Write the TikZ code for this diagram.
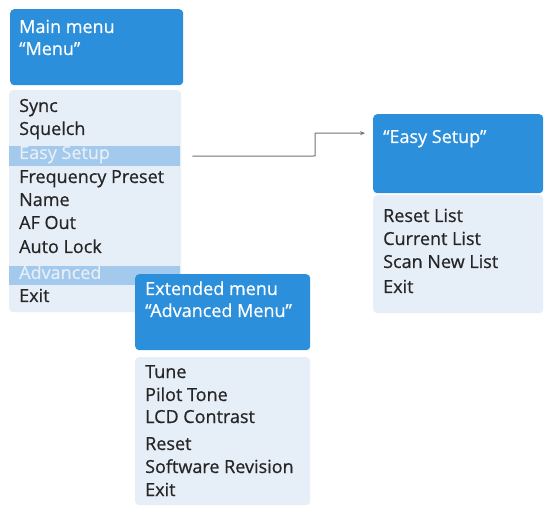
\documentclass[tikz,border=0pt]{standalone}
\usepackage{fontspec}
\setmainfont{Open Sans}
\newfontfamily\menufont{Open Sans}[FakeBold=0.6]
\usetikzlibrary{arrows.meta}
\definecolor{hdrblue}{HTML}{2B8FDB}
\definecolor{bodybg}{HTML}{E6EEF8}
\definecolor{barblue}{HTML}{A3C9EC}
\definecolor{txt}{HTML}{262626}
\definecolor{conncol}{HTML}{6E7378}
\tikzset{
  hdr/.style={fill=hdrblue, rounded corners=4pt, anchor=north west, inner sep=0pt},
  bodyb/.style={fill=bodybg, rounded corners=4pt, anchor=north west, inner sep=0pt},
  hbar/.style={fill=barblue, anchor=north west, inner sep=0pt},
  item/.style={anchor=base west, inner sep=0pt, text=txt, font=\menufont\fontsize{18}{20}\selectfont},
  hitem/.style={item, text=bodybg},
  htext/.style={anchor=base west, inner sep=0pt, text=white, font=\menufont\fontsize{18}{20}\selectfont},
  conn/.style={draw=conncol, line width=1pt, -{Stealth[length=5pt,width=4pt]}},
}
\begin{document}
\begin{tikzpicture}[x=1pt,y=-1pt]
\useasboundingbox[fill=white] (0,0) rectangle (546,510);
% Main menu
\node[hdr, minimum width=173pt, minimum height=76pt] (mainhead) at (10,9) {};
\node[bodyb, minimum width=172pt, minimum height=222pt] (mainbody) at (9,90) {};
\node[hbar, minimum width=171pt, minimum height=20pt] (esbar) at (9,146) {};
\node[hbar, minimum width=171pt, minimum height=19pt] (advbar) at (9,266) {};
\node[htext] (mh1) at (19,33) {Main menu};
\node[htext] (mh2) at (19,55) {“Menu”};
\node[item] (m1) at (19,112) {Sync};
\node[item] (m2) at (19,135) {Squelch};
\node[hitem] (m3) at (19,159) {Easy Setup};
\node[item] (m4) at (19,183) {Frequency Preset};
\node[item] (m5) at (19,206) {Name};
\node[item] (m6) at (19,229) {AF Out};
\node[item] (m7) at (19,253) {Auto Lock};
\node[hitem] (m8) at (19,279) {Advanced};
\node[item] (m9) at (19,302) {Exit};
% Extended menu
\node[hdr, minimum width=175pt, minimum height=76pt] (exthead) at (135,274) {};
\node[bodyb, minimum width=175pt, minimum height=148pt] (extbody) at (135,357) {};
\node[htext] (eh1) at (145,295) {Extended menu};
\node[htext] (eh2) at (145,317) {“Advanced Menu”};
\node[item] (x1) at (145,378) {Tune};
\node[item] (x2) at (145,401) {Pilot Tone};
\node[item] (x3) at (145,423) {LCD Contrast};
\node[item] (x4) at (145,450) {Reset};
\node[item] (x5) at (145,473) {Software Revision};
\node[item] (x6) at (145,496) {Exit};
% Easy Setup menu
\node[hdr, minimum width=170pt, minimum height=79pt] (eshead) at (373,114) {};
\node[bodyb, minimum width=170pt, minimum height=118pt] (esbody) at (373,195) {};
\node[htext] (sh1) at (383,143) {“Easy Setup”};
\node[item] (s1) at (383,222) {Reset List};
\node[item] (s2) at (383,245) {Current List};
\node[item] (s3) at (383,268) {Scan New List};
\node[item] (s4) at (383,293) {Exit};
% connector
\draw[conn, shorten <=12pt, shorten >=8pt] (esbar.east) -- (315,156) |- ([yshift=20.5pt]eshead.west);
\end{tikzpicture}
\end{document}
